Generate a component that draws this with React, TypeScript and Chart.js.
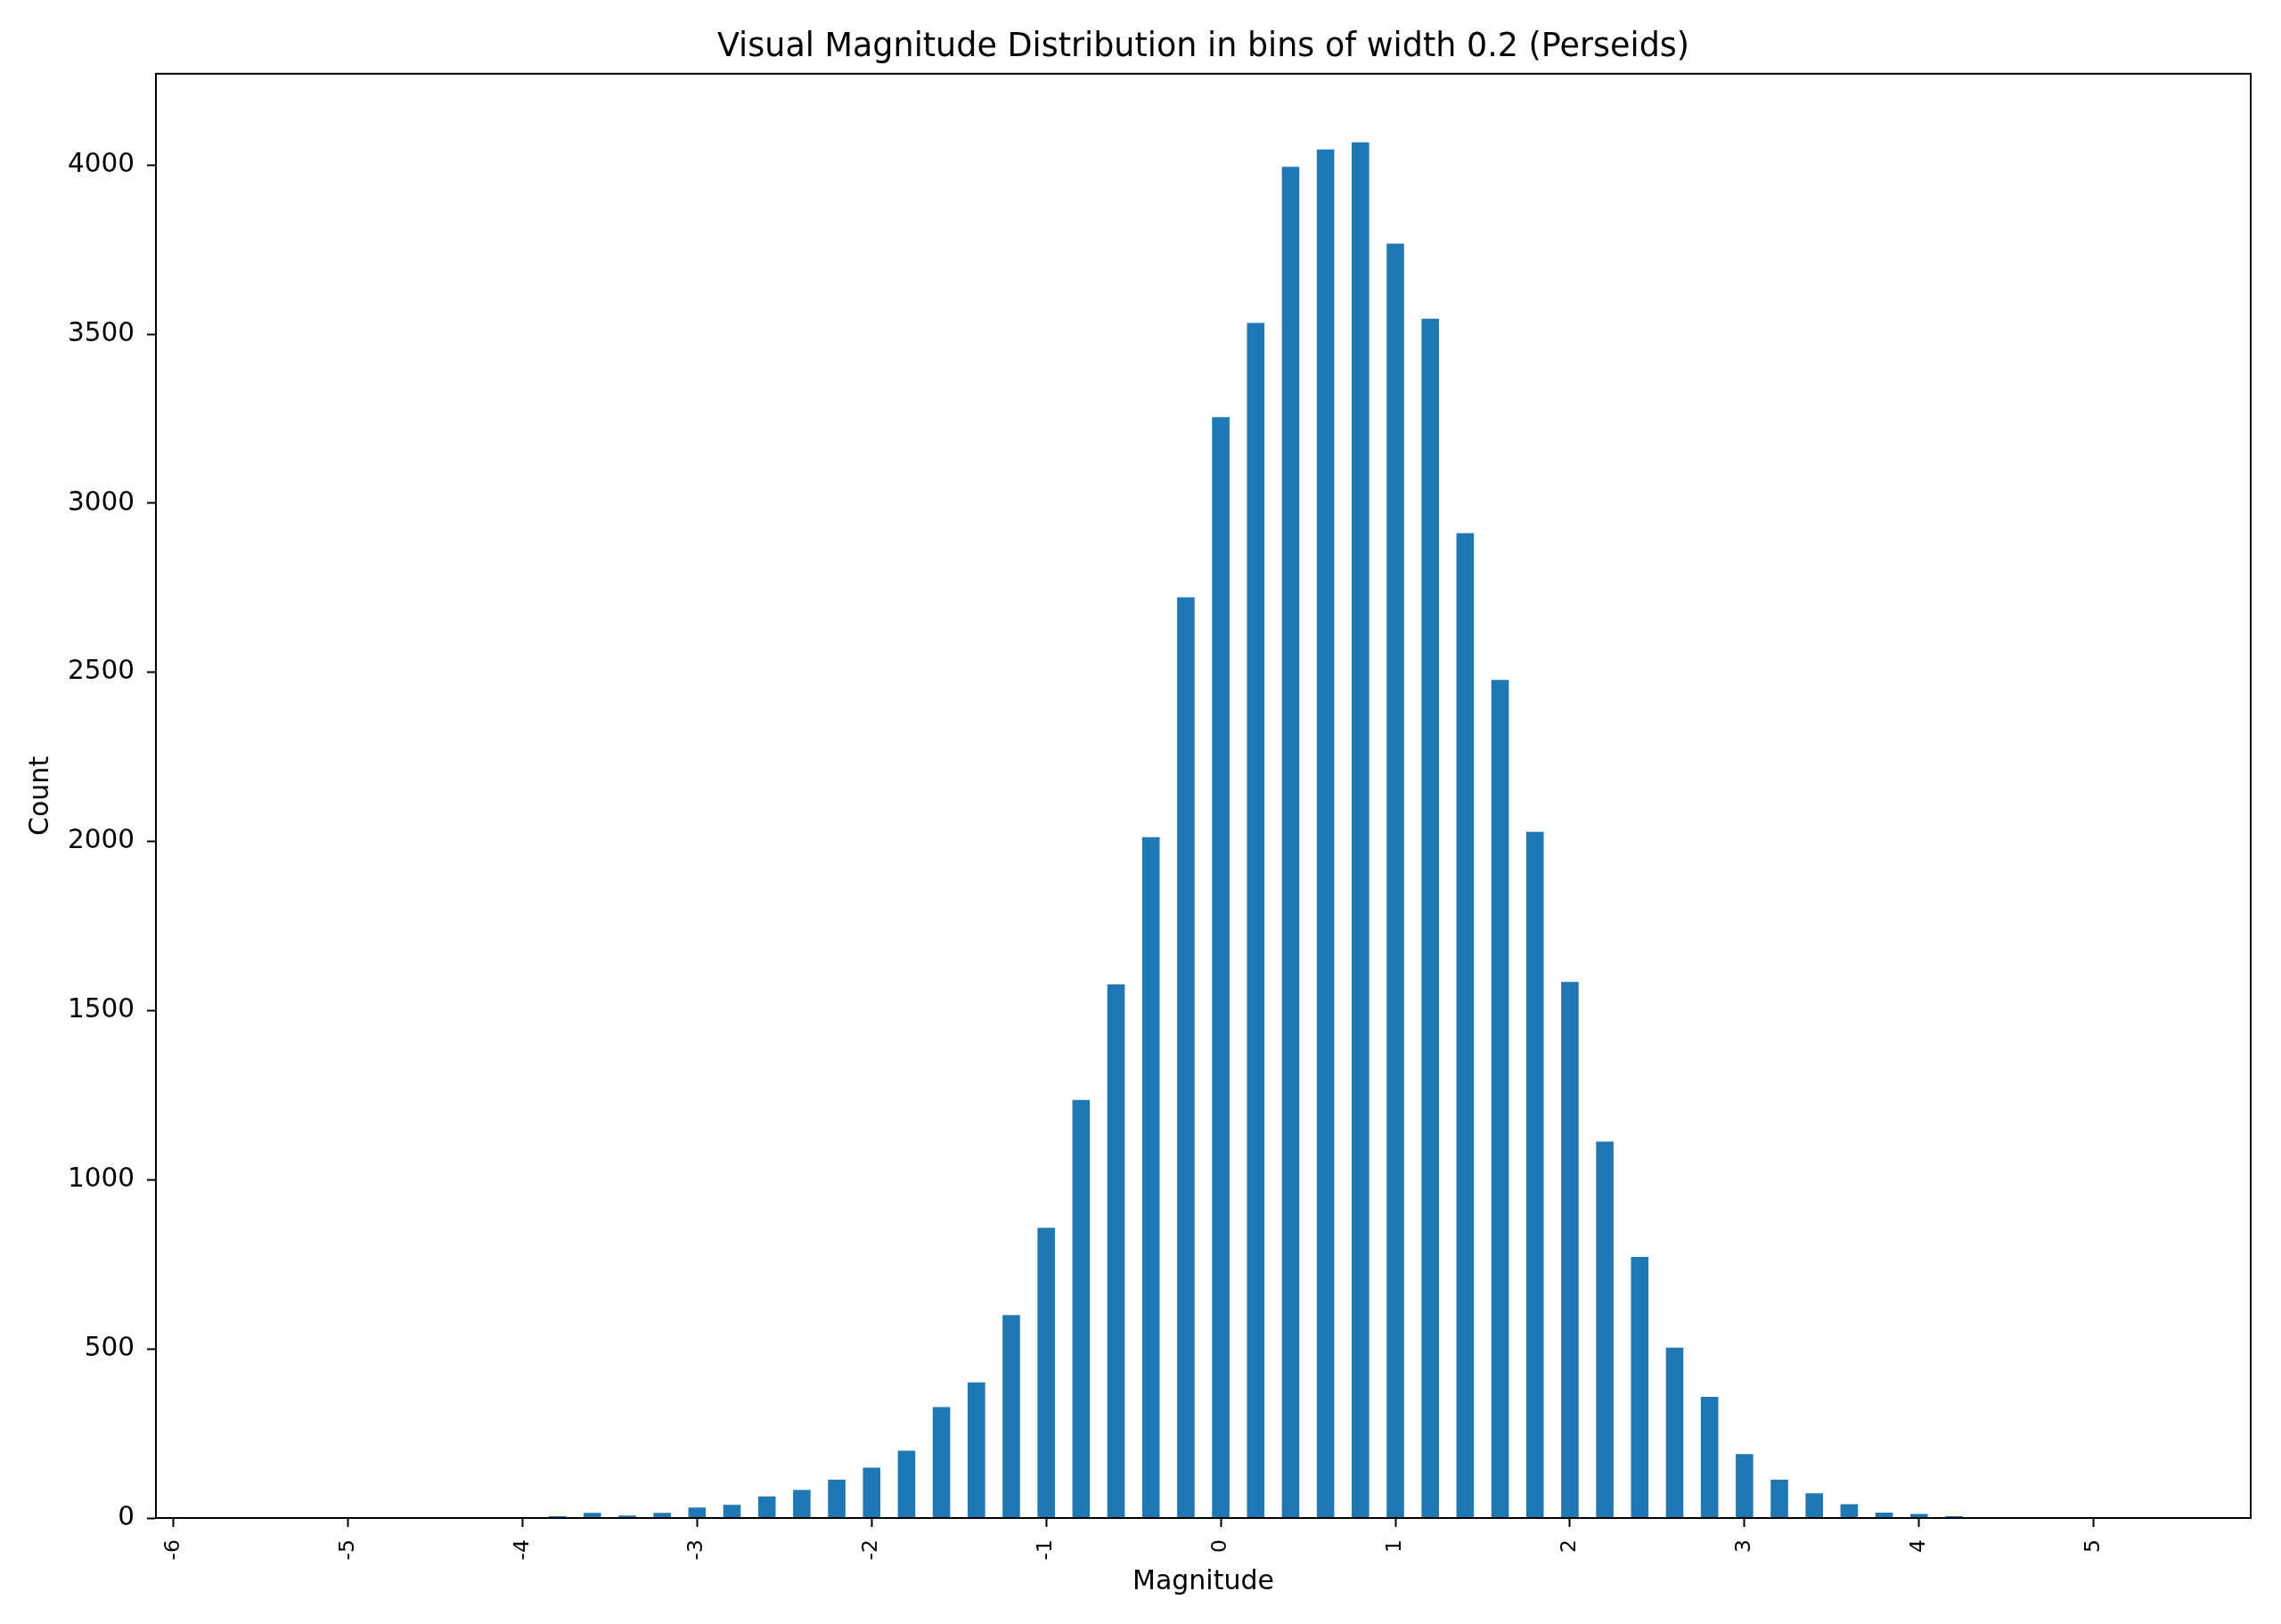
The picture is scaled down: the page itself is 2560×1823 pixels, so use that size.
import React, { useEffect, useRef } from 'react';
import { Chart, ChartOptions, Plugin, registerables } from 'chart.js';

Chart.register(...registerables);

// bin centres (magnitude) and counts
const magnitudes = [
  -3.8, -3.6, -3.4, -3.2, -3.0, -2.8, -2.6, -2.4, -2.2, -2.0,
  -1.8, -1.6, -1.4, -1.2, -1.0, -0.8, -0.6, -0.4, -0.2, 0.0,
  0.2, 0.4, 0.6, 0.8, 1.0, 1.2, 1.4, 1.6, 1.8, 2.0,
  2.2, 2.4, 2.6, 2.8, 3.0, 3.2, 3.4, 3.6, 3.8, 4.0,
  4.2,
];
const counts = [
  5, 15, 7, 15, 31, 39, 64, 83, 113, 149,
  199, 328, 401, 600, 858, 1236, 1578, 2013, 2722, 3255,
  3533, 3995, 4046, 4067, 3768, 3546, 2912, 2478, 2029, 1585,
  1113, 772, 504, 358, 189, 113, 73, 41, 16, 12,
  5,
];
const xTicks = [-6, -5, -4, -3, -2, -1, 0, 1, 2, 3, 4, 5];
const yTicks = [0, 500, 1000, 1500, 2000, 2500, 3000, 3500, 4000];
const xRange = [-6.1, 5.9];
const yRange = [0, 4270];

const TITLE = 'Visual Magnitude Distribution in bins of width 0.2 (Perseids)';

// matplotlib-style box around the axes
const frame: Plugin = {
  id: 'frame',
  afterDraw(chart) {
    const { ctx, chartArea } = chart;
    ctx.save();
    ctx.strokeStyle = '#000';
    ctx.lineWidth = 2;
    ctx.strokeRect(chartArea.left, chartArea.top, chartArea.right - chartArea.left, chartArea.bottom - chartArea.top);
    ctx.restore();
  },
};

function MagnitudeChart() {
  const chartRef = useRef<HTMLCanvasElement>(null);

  useEffect(() => {
    if (!chartRef.current) return;
    const ctx = chartRef.current.getContext('2d');
    if (!ctx) return;

    Chart.defaults.font.family = "'DejaVu Sans', sans-serif";
    Chart.defaults.color = '#000';

    const tickGrid = {
      display: true,
      drawOnChartArea: false,
      drawTicks: true,
      tickLength: 10,
      tickWidth: 2,
      tickColor: '#000',
      offset: false,
    };

    const options: ChartOptions<'bar'> = {
      animation: false,
      responsive: true,
      maintainAspectRatio: false,
      layout: { padding: { left: 0, right: 34, top: 0, bottom: 0 } },
      plugins: {
        legend: { display: false },
        tooltip: { enabled: false },
        title: {
          display: true,
          text: TITLE,
          fullSize: false,
          font: { size: 36.5, weight: 'normal' },
          color: '#000',
          padding: { top: 32, bottom: 7 },
        },
      },
      scales: {
        x: {
          type: 'linear',
          min: xRange[0],
          max: xRange[1],
          offset: false,
          grid: tickGrid,
          border: { display: true, color: '#000', width: 2 },
          afterBuildTicks: (scale) => {
            scale.ticks = xTicks.map((v) => ({ value: v }));
          },
          ticks: {
            autoSkip: false,
            minRotation: 90,
            maxRotation: 90,
            padding: 14,
            font: { size: 23.5 },
            callback: (v) => String(v),
          },
          title: {
            display: true,
            text: 'Magnitude',
            font: { size: 30 },
            padding: { top: 0, bottom: 29 },
          },
          afterFit: (scale) => {
            scale.height = 119;
          },
        },
        y: {
          min: yRange[0],
          max: yRange[1],
          grid: tickGrid,
          border: { display: true, color: '#000', width: 2 },
          afterBuildTicks: (scale) => {
            scale.ticks = yTicks.map((v) => ({ value: v }));
          },
          ticks: {
            autoSkip: false,
            padding: 14,
            font: { size: 29.5 },
            callback: (v) => String(v),
          },
          title: {
            display: true,
            text: 'Count',
            font: { size: 30 },
            padding: { top: 28, bottom: 0 },
          },
          afterFit: (scale) => {
            scale.width = 175;
          },
        },
      },
    };

    const chart = new Chart(ctx, {
      type: 'bar',
      data: {
        datasets: [
          {
            label: 'Count',
            data: magnitudes.map((m, i) => ({ x: m, y: counts[i] })),
            backgroundColor: '#1f77b4',
            borderWidth: 0,
            barPercentage: 0.5,
            categoryPercentage: 1,
          },
        ],
      },
      options,
      plugins: [frame],
    });

    return () => {
      chart.destroy();
    };
  }, []);

  return (
    <div style={{ position: 'absolute', left: 0, top: 0, width: 2560, height: 1823, background: '#fff' }}>
      <canvas ref={chartRef} />
    </div>
  );
}

export default function App() {
  return <MagnitudeChart />;
}
